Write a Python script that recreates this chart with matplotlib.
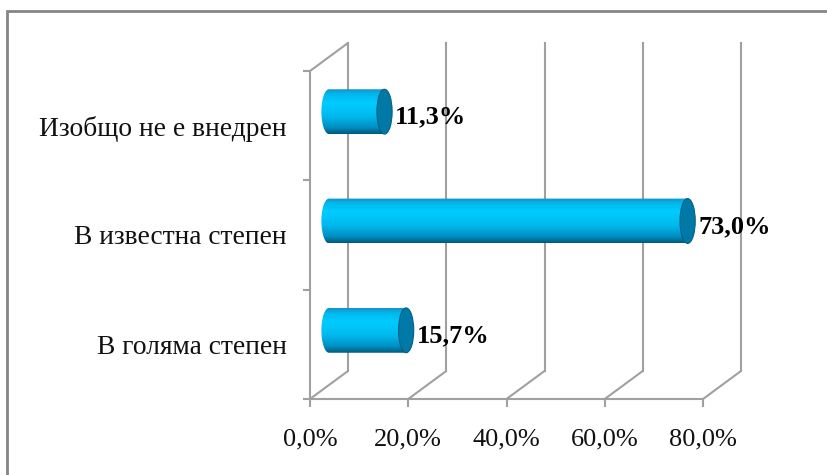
import numpy as np
import matplotlib
matplotlib.use("Agg")
import matplotlib.pyplot as plt
from matplotlib.patches import Ellipse, Polygon, Rectangle, ConnectionPatch
from matplotlib.transforms import offset_copy
from matplotlib.colors import LinearSegmentedColormap

plt.rcParams['font.family'] = ['Liberation Serif', 'DejaVu Serif']

# данни
categories = ['В голяма степен', 'В известна степен', 'Изобщо не е внедрен']
values = [15.7, 73.0, 11.3]
value_labels = ['15,7%', '73,0%', '11,3%']
xticks = [0, 20, 40, 60, 80]
xtick_labels = ['0,0%', '20,0%', '40,0%', '60,0%', '80,0%']

W, H = 827, 475
fig = plt.figure(figsize=(W / 100, H / 100), dpi=100)
fig.patch.set_facecolor('white')

# рамка на диаграмата (излиза извън картинката вдясно и долу)
fig.patches.append(Rectangle((7 / W, -0.2), 1.5, 1.2 - 11 / H,
                             transform=fig.transFigure, fill=False,
                             edgecolor='#858585', linewidth=2.0))

ax = fig.add_axes([310 / W, (H - 399) / H, 393 / W, 328 / H])
ax.set_xlim(0, 80)
ax.set_ylim(0, 3)
ax.patch.set_alpha(0)

grid_c = '#a0a0a0'
depth_x, depth_y = 38, 28
back = offset_copy(ax.transData, fig=fig, x=depth_x, y=depth_y, units='dots')
mid = offset_copy(ax.transData, fig=fig, x=depth_x / 2, y=depth_y / 2, units='dots')

# оси
for s in ['top', 'right']:
    ax.spines[s].set_visible(False)
for s in ['left', 'bottom']:
    ax.spines[s].set_color(grid_c)
    ax.spines[s].set_linewidth(1.5)

ax.set_xticks(xticks)
ax.set_xticklabels(xtick_labels, fontsize=19, color='#111111')
ax.tick_params(axis='x', length=6, width=1.5, color=grid_c, pad=15.5)
ax.set_yticks([0, 1, 2, 3])
ax.set_yticklabels([])
ax.tick_params(axis='y', which='major', length=5, width=1.5, color=grid_c)
ax.set_yticks([0.5, 1.5, 2.5], minor=True)
ax.set_yticklabels(categories, minor=True, fontsize=19.8, color='#111111')
ax.tick_params(axis='y', which='minor', length=0, pad=17)

# задна стена и под
for t in xticks:
    ax.plot([t, t], [0, 3], color=grid_c, lw=1.5, transform=back, clip_on=False)
    ax.add_artist(ConnectionPatch(xyA=(t, 0), coordsA=ax.transData,
                                  xyB=(t, 0), coordsB=back,
                                  color=grid_c, lw=1.5))
ax.add_artist(ConnectionPatch(xyA=(0, 3), coordsA=ax.transData,
                              xyB=(0, 3), coordsB=back,
                              color=grid_c, lw=1.5))

# цилиндри
body_cmap = LinearSegmentedColormap.from_list('body', [
    (0.0, '#1892c2'), (0.1, '#00b6ec'), (0.3, '#00ccff'),
    (0.6, '#00b9ee'), (0.85, '#0090c4'), (1.0, '#00597a')])
grad = np.linspace(0, 1, 200).reshape(-1, 1)
half_h = 0.205
a = 1.55

for i, (v, lab) in enumerate(zip(values, value_labels)):
    yc = i + 0.5
    th = np.linspace(np.pi / 2, 3 * np.pi / 2, 60)
    pts = np.column_stack([a * np.cos(th), yc + half_h * np.sin(th)])
    pts = np.vstack([pts, [[v, yc - half_h], [v, yc + half_h]]])
    clip = Polygon(pts, closed=True, transform=mid, facecolor='none', edgecolor='none')
    ax.add_patch(clip)
    im = ax.imshow(grad, cmap=body_cmap, aspect='auto', origin='upper',
                   extent=[-a, v, yc - half_h, yc + half_h],
                   transform=mid, interpolation='bilinear', zorder=3)
    im.set_clip_path(clip)
    cap = Ellipse((v, yc), 2 * a, 2 * half_h, transform=mid,
                  facecolor='#0079a6', edgecolor='#006186', lw=0.8, zorder=4)
    ax.add_patch(cap)
    ax.annotate(lab, xy=(v + a, yc), xycoords=mid, xytext=(2, -4),
                textcoords='offset points', ha='left', va='center',
                fontsize=19, fontweight='bold', color='black', zorder=5,
                annotation_clip=False)

ax.set_xlim(0, 80)
ax.set_ylim(0, 3)

fig.savefig('out.png', dpi=100)
